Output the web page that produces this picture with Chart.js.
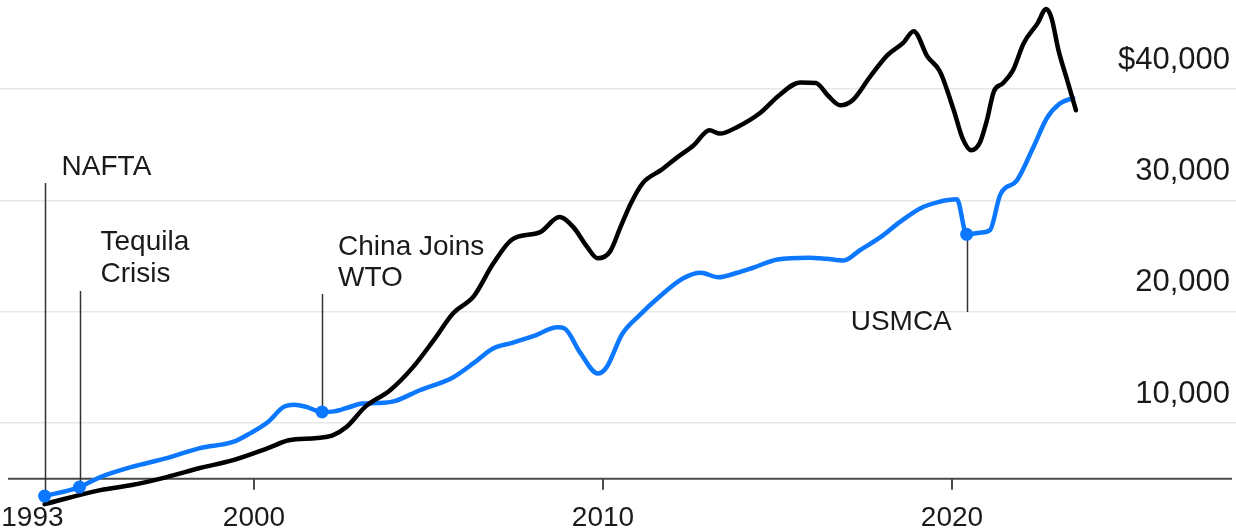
<!DOCTYPE html>
<html>
<head>
<meta charset="utf-8">
<script src="https://cdn.jsdelivr.net/npm/chart.js@4"></script>
<style>
  html, body { margin: 0; padding: 0; background: #fff; }
  #chart { display: block; }
</style>
</head>
<body>
<canvas id="chart" width="1236" height="532"></canvas>
<script>
// Monthly U.S. goods imports, millions of dollars (12-month average)
const chinaYears = [1994.0, 1995.6, 1996.5, 1997.5, 1998.45, 1999.4, 2000.4, 2001.0, 2001.8, 2002.25,
  2002.65, 2003.2, 2003.9, 2004.55, 2005.15, 2005.7, 2006.3, 2006.85, 2007.4, 2008.2,
  2008.75, 2009.15, 2009.55, 2009.85, 2010.2, 2010.5, 2010.8, 2011.15, 2011.65, 2012.1,
  2012.6, 2013.05, 2013.35, 2013.85, 2014.5, 2015.05, 2015.65, 2016.1, 2016.45, 2016.8,
  2017.15, 2017.65, 2018.15, 2018.6, 2018.9, 2019.3, 2019.65, 2020.05, 2020.3, 2020.55,
  2020.8, 2021.0, 2021.2, 2021.45, 2021.75, 2022.05, 2022.45, 2022.7, 2022.85, 2023.05,
  2023.3, 2023.55];
const chinaValues = [2720, 3980, 4430, 5150, 5960, 6670, 7750, 8450, 8650, 8900,
  9650, 11500, 12950, 15000, 17450, 19850, 21400, 24300, 26500, 27150,
  28500, 27600, 25800, 24800, 25400, 27600, 29750, 31600, 32700, 33800,
  34950, 36300, 36000, 36600, 37850, 39450, 40600, 40550, 39400, 38550,
  39000, 41100, 43050, 44150, 45200, 42900, 41600, 38100, 35600, 34500,
  35200, 37200, 39800, 40500, 41700, 44100, 45900, 47200, 46400, 43500,
  40800, 38100];

const mexicoYears = [1994.0, 1995.0, 1995.6, 1996.5, 1997.5, 1998.45, 1999.4, 1999.9, 2000.4, 2000.85,
  2001.15, 2001.5, 2001.95, 2002.3, 2002.7, 2003.1, 2003.5, 2004.0, 2004.75, 2005.7,
  2006.3, 2006.85, 2007.4, 2008.0, 2008.7, 2008.9, 2009.35, 2009.85, 2010.1, 2010.55,
  2011.05, 2011.6, 2012.3, 2012.8, 2013.3, 2013.85, 2014.3, 2015.0, 2015.9, 2016.4,
  2016.9, 2017.35, 2017.95, 2018.5, 2019.1, 2019.6, 2020.14, 2020.42, 2020.8, 2021.09,
  2021.38, 2021.86, 2022.32, 2022.72, 2023.09, 2023.47];
const mexicoValues = [3440, 4250, 5150, 6060, 6850, 7750, 8300, 9100, 10100, 11450,
  11650, 11450, 11000, 11050, 11400, 11750, 11800, 11950, 12950, 14100,
  15400, 16700, 17200, 17800, 18600, 18500, 16300, 14450, 15000, 18000,
  19700, 21300, 23000, 23500, 23100, 23500, 23950, 24700, 24850, 24750,
  24600, 25500, 26700, 28050, 29300, 29850, 30100, 26950, 27100, 27350,
  30500, 31800, 34700, 37400, 38700, 39200];

// Trade milestones, marked on the Mexico line
const eventLabels = [['NAFTA'], ['Tequila', 'Crisis'], ['China Joins', 'WTO'], ['USMCA']];
const eventYears = [1994.0, 1995.0, 2001.95, 2020.42];
const eventValues = [3440, 4250, 11000, 26950];

const yTickValues = [10000, 20000, 30000, 40000];
const xTickYears = [1993.65, 2000, 2010, 2020];
const xTickLabels = ['1993', '2000', '2010', '2020'];
const tickMarkYears = [2000, 2010, 2020];
const baselineValue = 5000;

const BLUE = '#0b78ff';
const FONT = '"Liberation Sans", Arial, Helvetica, sans-serif';

const toPoints = (xs, ys) => xs.map((x, i) => ({ x: x, y: ys[i] }));

// where each callout's leader line ends and where its text sits
const calloutLayout = [
  { lineEnd: 183, dx: 17, baselines: [175] },
  { lineEnd: 291, dx: 21, baselines: [250, 282] },
  { lineEnd: 294, dx: 16, baselines: [255, 286] },
  { lineEnd: 312, dx: -116, baselines: [330] }
];

const callouts = {
  id: 'callouts',
  beforeDatasetsDraw(chart) {
    const { ctx, chartArea } = chart;
    const x = chart.scales.x, y = chart.scales.y;
    ctx.save();

    // axis baseline and year ticks
    const by = y.getPixelForValue(baselineValue);
    ctx.strokeStyle = '#4a4a4a';
    ctx.lineWidth = 2;
    ctx.beginPath();
    ctx.moveTo(8, by);
    ctx.lineTo(chartArea.right - 4, by);
    ctx.stroke();
    tickMarkYears.forEach(yr => {
      const px = Math.round(x.getPixelForValue(yr));
      ctx.beginPath();
      ctx.moveTo(px, by);
      ctx.lineTo(px, by + 11);
      ctx.stroke();
    });

    // leader lines
    ctx.strokeStyle = '#333';
    ctx.lineWidth = 1.5;
    eventYears.forEach((yr, i) => {
      const px = Math.round(x.getPixelForValue(yr)) + 0.5;
      const py = y.getPixelForValue(eventValues[i]);
      ctx.beginPath();
      ctx.moveTo(px, py);
      ctx.lineTo(px, calloutLayout[i].lineEnd);
      ctx.stroke();
    });
    ctx.restore();
  },
  afterDatasetsDraw(chart) {
    const { ctx } = chart;
    const x = chart.scales.x;
    ctx.save();
    ctx.fillStyle = '#1a1a1a';
    ctx.font = '28px ' + FONT;
    ctx.textAlign = 'left';
    ctx.textBaseline = 'alphabetic';
    eventYears.forEach((yr, i) => {
      const px = x.getPixelForValue(yr);
      const lay = calloutLayout[i];
      eventLabels[i].forEach((line, j) => {
        ctx.fillText(line, px + lay.dx, lay.baselines[j]);
      });
    });
    ctx.restore();
  }
};

new Chart(document.getElementById('chart'), {
  type: 'line',
  data: {
    datasets: [
      {
        label: 'Events',
        data: toPoints(eventYears, eventValues),
        showLine: false,
        pointRadius: 6.5,
        pointBackgroundColor: BLUE,
        pointBorderWidth: 0,
        clip: false,
        order: 0
      },
      {
        label: 'China',
        data: toPoints(chinaYears, chinaValues),
        borderColor: '#000',
        borderWidth: 4.5,
        pointRadius: 0,
        cubicInterpolationMode: 'monotone',
        borderJoinStyle: 'round',
        borderCapStyle: 'round',
        clip: false,
        order: 1
      },
      {
        label: 'Mexico',
        data: toPoints(mexicoYears, mexicoValues),
        borderColor: BLUE,
        borderWidth: 4.5,
        pointRadius: 0,
        cubicInterpolationMode: 'monotone',
        borderJoinStyle: 'round',
        borderCapStyle: 'round',
        clip: false,
        order: 2
      }
    ]
  },
  options: {
    responsive: false,
    animation: false,
    layout: { padding: 0, autoPadding: false },
    plugins: { legend: { display: false }, tooltip: { enabled: false } },
    scales: {
      x: {
        type: 'linear',
        min: 1992.722,
        max: 2028.137,
        grid: { display: false },
        border: { display: false },
        afterBuildTicks: scale => { scale.ticks = xTickYears.map(v => ({ value: v })); },
        afterFit: scale => { scale.height = 31; scale.paddingLeft = 0; scale.paddingRight = 0; },
        ticks: {
          autoSkip: false,
          maxRotation: 0,
          padding: -8,
          color: '#1a1a1a',
          font: { family: FONT, size: 28 },
          callback: (v, i) => xTickLabels[i]
        }
      },
      y: {
        position: 'right',
        min: 3000,
        max: 48000,
        grid: { color: '#e8e8e8', lineWidth: 1.5, drawTicks: false },
        border: { display: false },
        afterBuildTicks: scale => { scale.ticks = yTickValues.map(v => ({ value: v })); },
        afterFit: scale => { scale.width = 0; scale.paddingTop = 0; scale.paddingBottom = 0; },
        ticks: {
          mirror: true,
          padding: -6,
          labelOffset: -29,
          color: '#1a1a1a',
          font: { family: FONT, size: 31 },
          callback: v => (v === 40000 ? '$' : '') + v.toLocaleString('en-US')
        }
      }
    }
  },
  plugins: [callouts]
});
</script>
</body>
</html>
